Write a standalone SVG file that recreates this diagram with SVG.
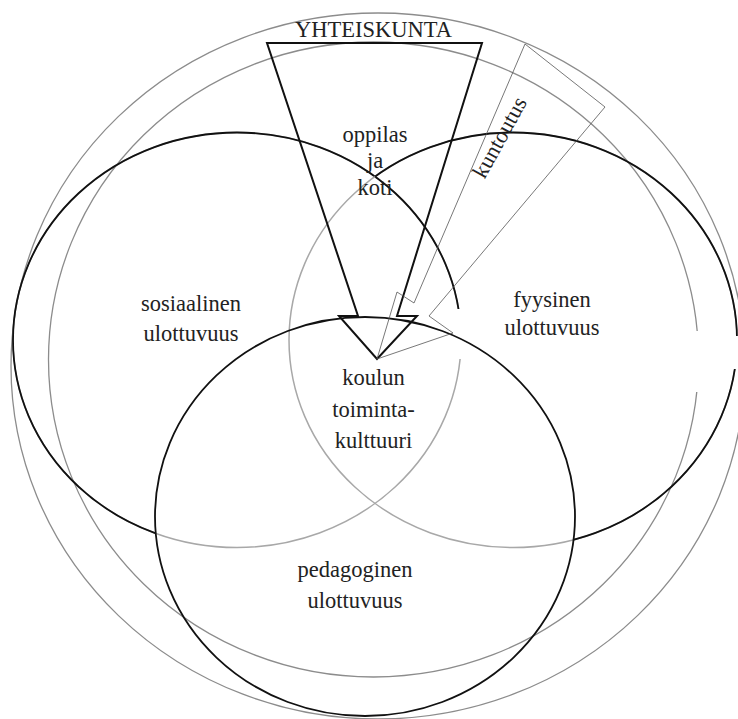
<svg xmlns="http://www.w3.org/2000/svg" width="738" height="719" viewBox="0 0 738 719">
  <style>
    .ring { fill: none; stroke: #8c8c8c; stroke-width: 1.3; }
    .dim { fill: none; stroke: #111; stroke-width: 1.8; }
    .dimsoft { fill: none; stroke: #a8a8a8; stroke-width: 1.5; }
    .bigarrow { fill: none; stroke: #111; stroke-width: 2; stroke-linejoin: miter; }
    .thinarrow { fill: none; stroke: #555; stroke-width: 0.8; }
    .lbl { font-size: 22.5px; fill: #222; text-anchor: middle; }
    .gap { fill: #fff; }
  </style>
  <defs>
    <!-- areas outside the pedagogical and social ellipses -->
    <clipPath id="outsidePed">
      <path clip-rule="evenodd" d="M0 0H738V719H0Z M155 516.5a210 199.5 0 1 0 420 0a210 199.5 0 1 0 -420 0Z"/>
    </clipPath>
    <clipPath id="outsideSoc">
      <path clip-rule="evenodd" d="M0 0H738V719H0Z M13 340a224 207.5 0 1 0 448 0a224 207.5 0 1 0 -448 0Z"/>
    </clipPath>
  </defs>

  <!-- society rings -->
  <g id="society-outer">
    <ellipse class="ring" cx="378" cy="366" rx="367" ry="353"/>
  </g>
  <g id="society-inner">
    <ellipse class="ring" cx="373.5" cy="359.5" rx="325" ry="317.5"/>
    <rect class="gap" x="690" y="331" width="16" height="61"/>
  </g>

  <g font-family="'Liberation Serif', 'DejaVu Serif', 'Times New Roman', serif">
    <!-- social dimension -->
    <g id="social">
      <ellipse class="dimsoft" cx="237" cy="340" rx="224" ry="207.5"/>
      <ellipse class="dim" cx="237" cy="340" rx="224" ry="207.5" clip-path="url(#outsidePed)"/>
      <rect class="gap" x="453" y="309" width="14" height="50"/>
      <text class="lbl" x="191" y="311">sosiaalinen</text>
      <text class="lbl" x="191" y="341">ulottuvuus</text>
    </g>

    <!-- physical dimension -->
    <g id="physical">
      <ellipse class="dimsoft" cx="513" cy="340" rx="224" ry="207.5"/>
      <g clip-path="url(#outsideSoc)">
        <ellipse class="dim" cx="513" cy="340" rx="224" ry="207.5" clip-path="url(#outsidePed)"/>
      </g>
      <rect class="gap" x="728" y="336" width="10" height="33"/>
      <text class="lbl" x="552" y="307">fyysinen</text>
      <text class="lbl" x="552" y="335">ulottuvuus</text>
    </g>

    <!-- pedagogical dimension -->
    <g id="pedagogical">
      <ellipse class="dim" cx="365" cy="516.5" rx="210" ry="199.5"/>
      <text class="lbl" x="355" y="577">pedagoginen</text>
      <text class="lbl" x="355" y="608">ulottuvuus</text>
    </g>

    <!-- pupil and home -->
    <g id="pupil-home">
      <text class="lbl" x="375" y="142">oppilas</text>
      <text class="lbl" x="375" y="168">ja</text>
      <text class="lbl" x="375" y="195">koti</text>
    </g>

    <!-- school culture at the centre -->
    <g id="school-culture">
      <text class="lbl" x="373.5" y="385">koulun</text>
      <text class="lbl" x="373.5" y="417">toiminta-</text>
      <text class="lbl" x="373.5" y="448">kulttuuri</text>
    </g>

    <!-- connectors -->
    <g id="connectors">
      <g id="society-arrow">
        <polygon class="bigarrow" points="267,43 482,43 397,316 417,316 377,359 339,316 358,316"/>
        <text class="lbl" x="373.5" y="37" font-size="20.5">YHTEISKUNTA</text>
      </g>
      <g id="rehabilitation-arrow">
        <polygon class="thinarrow" points="525,44 605,107 429,316 453,333 377,359 397,292 414,303"/>
        <text class="lbl" transform="translate(506,141) rotate(-61)" x="0" y="0">kuntoutus</text>
      </g>
    </g>
  </g>
</svg>
